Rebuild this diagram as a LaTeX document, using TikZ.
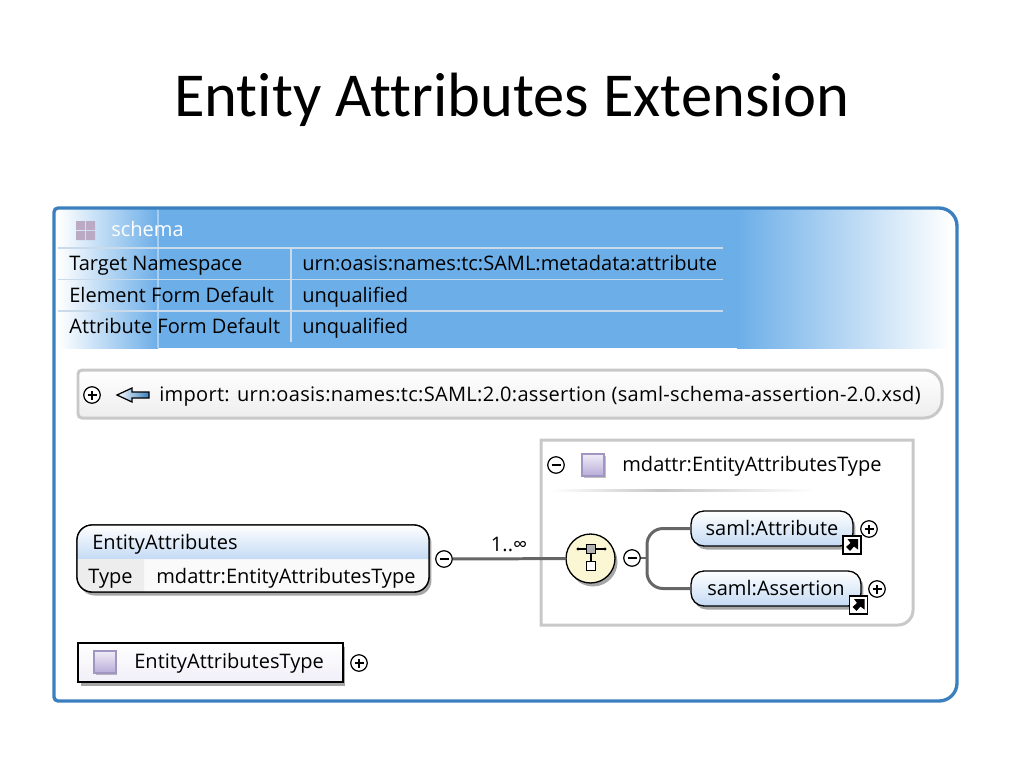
\documentclass[tikz,border=0pt]{standalone}
\usepackage{fontspec}
\setmainfont{Open Sans}
\newfontfamily\titlefont[Ligatures=NoCommon]{Carlito}
\usetikzlibrary{shadows,positioning}
\definecolor{framecol}{HTML}{3A80BE}
\definecolor{headcol}{HTML}{6CAEE8}
\definecolor{rulecol}{HTML}{C9DAEA}
\definecolor{greycol}{HTML}{C8C8C8}
\definecolor{linkcol}{HTML}{666666}
\definecolor{elemcol}{HTML}{C4DAF4}
\definecolor{purplecol}{HTML}{B3A6D6}
\definecolor{seqcol}{HTML}{FBF6D3}
\definecolor{schemacol}{HTML}{BBAAC4}
\tikzset{
  every node/.style={font=\fontsize{11.4}{13}\selectfont, text=black},
  celltext/.style={anchor=base west, inner sep=0pt},
  softshadow/.style={drop shadow={shadow xshift=.05cm,shadow yshift=-.07cm,opacity=.35,fill=black}},
  elembox/.style={draw=black, line width=.75pt, rounded corners=.26cm, inner sep=0pt, softshadow,
    top color=white, bottom color=elemcol, text height=10pt, text depth=2.6pt},
  typebox/.style={draw=black, line width=.75pt, top color=white, bottom color=purplecol!18, inner sep=0pt, softshadow},
  typeicon/.style={draw=purplecol!90!black, line width=.8pt, top color=purplecol!20, bottom color=purplecol!95,
    minimum size=.44cm, inner sep=0pt, drop shadow={shadow xshift=.03cm,shadow yshift=-.03cm,opacity=.25,fill=black}},
  minusicon/.style={circle, draw=black, fill=white, line width=.7pt, minimum size=.33cm, inner sep=0pt,
    path picture={\draw[line width=.8pt] ([xshift=-.09cm]path picture bounding box.center) -- ([xshift=.09cm]path picture bounding box.center);}},
  plusicon/.style={circle, draw=black, fill=white, line width=.7pt, minimum size=.33cm, inner sep=0pt,
    path picture={\draw[line width=.8pt] ([xshift=-.09cm]path picture bounding box.center) -- ([xshift=.09cm]path picture bounding box.center)
      ([yshift=-.09cm]path picture bounding box.center) -- ([yshift=.09cm]path picture bounding box.center);}},
  linkicon/.style={draw=black, fill=white, line width=1.1pt, minimum size=.36cm, inner sep=0pt,
    path picture={\fill[black] ([xshift=-.12cm,yshift=-.04cm]path picture bounding box.center)
      -- ([xshift=-.03cm,yshift=.04cm]path picture bounding box.center)
      -- ([xshift=-.09cm,yshift=.12cm]path picture bounding box.center)
      -- ([xshift=.12cm,yshift=.12cm]path picture bounding box.center)
      -- ([xshift=.12cm,yshift=-.09cm]path picture bounding box.center)
      -- ([xshift=.04cm,yshift=-.03cm]path picture bounding box.center)
      -- ([xshift=-.04cm,yshift=-.12cm]path picture bounding box.center) -- cycle;}},
  link/.style={draw=linkcol, line width=1.7pt},
  tablerule/.style={draw=rulecol, line width=.8pt}
}
\begin{document}
\begin{tikzpicture}[x=.02cm,y=-.02cm]
  \useasboundingbox (0,0) rectangle (1024,768);
  \node[anchor=base, inner sep=0pt, font=\titlefont\fontsize{35.6}{40}\selectfont] (title) at (512,116) {Entity Attributes Extension};

  % header band of the schema
  \shade[left color=white, right color=headcol] (58,209) rectangle (158,348);
  \fill[headcol] (158,209) rectangle (737,348);
  \shade[left color=headcol, right color=white] (737,209) rectangle (952,348);
  \draw[draw=headcol!60!white, line width=.6pt] (158,209) -- (158,348);
  \fill[schemacol] (76,221) rectangle (85,230) (86,221) rectangle (95,230)
     (76,231) rectangle (85,240) (86,231) rectangle (95,240);
  \node[celltext, text=white] (schema) at (111,236) {schema};
  \draw[tablerule] (58,248) -- (723,248) (58,279.5) -- (723,279.5) (58,311) -- (723,311) (291,248) -- (291,342);
  \node[celltext] (ns) at (69,270) {Target Namespace};
  \node[celltext] (nsval) at (302,270) {urn:oasis:names:tc:SAML:metadata:attribute};
  \node[celltext] (elem) at (69,302) {Element Form Default};
  \node[celltext] (elemval) at (302,302) {unqualified};
  \node[celltext] (attr) at (69,333) {Attribute Form Default};
  \node[celltext] (attrval) at (302,333) {unqualified};

  % outer frame
  \draw[framecol, line width=1.9pt] [rounded corners=.08cm] (54,208) [rounded corners=.36cm] -- (957,208) -- (957,701) [rounded corners=.08cm] -- (54,701) -- cycle;

  % import
  \draw[draw=greycol, line width=1.7pt, top color=white, bottom color=black!7] [rounded corners=.08cm] (78,370) [rounded corners=.36cm] -- (942,370) -- (942,418) [rounded corners=.08cm] -- (78,418) -- cycle;
  \node[plusicon] (importplus) at (92,395) {};
  \draw[draw=black, line width=.7pt, left color=white, right color=framecol] (117,395) -- (132,388) -- (132,392) -- (149,392) -- (149,398) -- (132,398) -- (132,402) -- cycle;
  \node[celltext, font=\fontsize{11.4}{13}\addfontfeature{LetterSpace=1.5}\selectfont] (import) at (159,401) {import: urn:oasis:names:tc:SAML:2.0:assertion (saml-schema-assertion-2.0.xsd)};

  % element
  \node[typebox, rounded corners=.3cm, minimum width=7.04cm, minimum height=1.34cm] (entity) at (253,558.5) {};
  \fill[black!2] [sharp corners] (144,559) -- (144,592) [rounded corners=.3cm] -- (429,592) [sharp corners] -- (429,559) -- cycle;
  \shade[top color=white, bottom color=elemcol] [rounded corners=.3cm] (77,559) -- (77,525) -- (429,525) [sharp corners] -- (429,559) -- cycle;
  \fill[black!7] [rounded corners=.3cm] (77,559) -- (77,592) [sharp corners] -- (144,592) -- (144,559) -- cycle;
  \draw[black, line width=.75pt, rounded corners=.3cm] (77,525) rectangle (429,592);
  \node[celltext] (entityname) at (92,549) {EntityAttributes};
  \node[celltext] (entitytype) at (88,583) {Type};
  \node[celltext] (entityval) at (156,583) {mdattr:EntityAttributesType};
  \node[minusicon] (entityminus) at (444,559) {};

  % content of the type
  \draw[draw=greycol, line width=1.7pt] (541,440) -- (913,440) [rounded corners=.3cm] -- (913,625) [sharp corners] -- (541,625) -- cycle;
  \node[minusicon] (typeminus) at (556,465) {};
  \node[typeicon] (typesquare) at (593,465) {};
  \node[celltext] (typename) at (622,471) {mdattr:EntityAttributesType};
  \shade[left color=white, right color=black!22] (552,489) rectangle (660,491);
  \shade[left color=black!22, right color=white] (660,489) rectangle (815,491);

  \node[circle, draw=black, line width=.75pt, fill=seqcol, minimum size=.98cm, inner sep=0pt, softshadow] (seq) at (590.5,558.5) {};
  \node[draw=black, fill=black!30, line width=.7pt, minimum size=.17cm, inner sep=0pt] (seqtop) at (591,549) {};
  \node[draw=black, fill=white, line width=.7pt, minimum size=.19cm, inner sep=0pt] (seqbot) at (591,566) {};
  \draw[line width=.7pt] (seqtop) -- (seqbot);
  \fill (578,549) circle (1.7) (605,549) circle (1.7);
  \draw[line width=.7pt] (578,549) -- (seqtop) -- (605,549);
  \node[minusicon] (seqminus) at (632,558) {};
  \coordinate (fork) at (647,558);

  \node[elembox, minimum width=3.24cm, minimum height=.7cm] (samlattr) at (772,528.5) {saml:Attribute};
  \node[elembox, minimum width=3.4cm, minimum height=.7cm] (samlass) at (776,588.5) {saml:Assertion};
  \node[linkicon] (attrlink) at (852,545) {};
  \node[linkicon] (asslink) at (858.5,605) {};
  \node[plusicon] (attrplus) at (869,529) {};
  \node[plusicon] (assplus) at (877,589) {};

  % connectors
  \draw[link] (entityminus) -- node[above=3pt, inner sep=0pt] (card) {1..∞} (seq);
  \draw[link, line width=1pt] (seqminus) -- (fork);
  \draw[link, rounded corners=.32cm] (fork) |- (samlattr.west);
  \draw[link, rounded corners=.32cm] (fork) |- (samlass.west);

  % global type
  \node[typebox, minimum width=5.3cm, minimum height=.78cm] (globaltype) at (210.5,662.5) {};
  \node[typeicon] (globalsquare) at (105,662) {};
  \node[celltext] (globalname) at (134,668) {EntityAttributesType};
  \node[plusicon] (globalplus) at (359,663) {};
\end{tikzpicture}
\end{document}
